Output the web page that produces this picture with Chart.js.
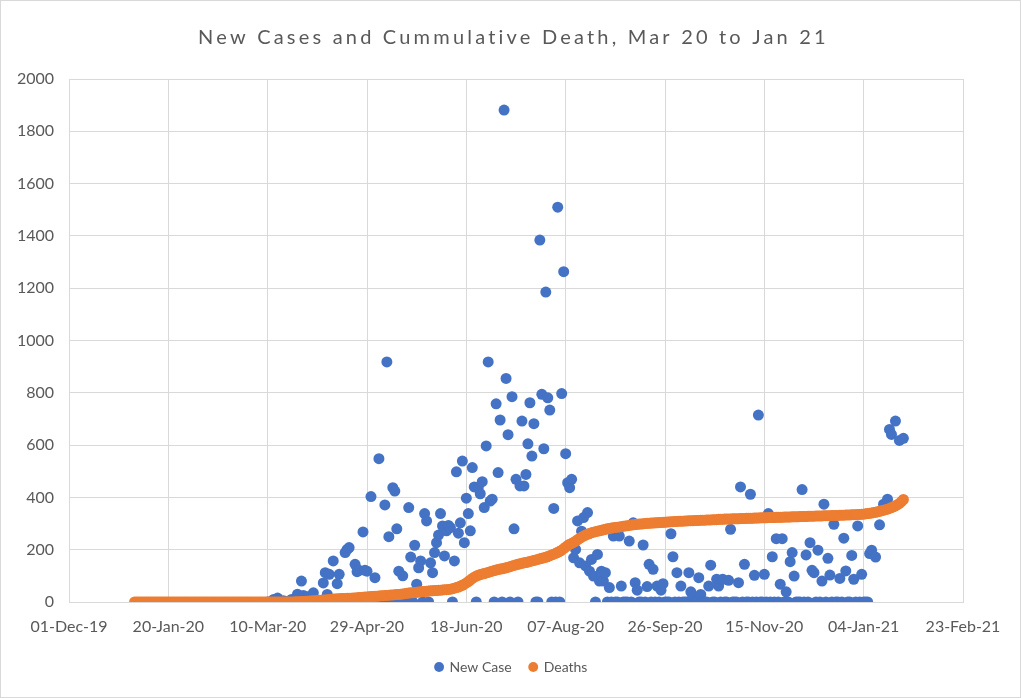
<!DOCTYPE html>
<html>
<head>
<meta charset="utf-8">
<script src="https://cdn.jsdelivr.net/npm/chart.js@4"></script>
<style>
  body { margin: 0; background: #fff; }
  #frame { position: relative; width: 1021px; height: 698px; border: 1px solid #d9d9d9; box-sizing: border-box; }
  #chart { position: absolute; left: 0; top: 0; }
</style>
</head>
<body>
<div id="frame"><canvas id="chart" width="1021" height="698"></canvas></div>
<script>
const chartTitle = "New Cases and Cummulative Death, Mar 20 to Jan 21";

// x values are days counted from 01-Dec-19
const xTickLabels = ["01-Dec-19", "20-Jan-20", "10-Mar-20", "29-Apr-20", "18-Jun-20",
  "07-Aug-20", "26-Sep-20", "15-Nov-20", "04-Jan-21", "23-Feb-21"];

// new cases, one value per day from day 100 (09-Mar-20); null = no point
const caseStartDay = 100;
const newCases = [
  0, 0, 0, 10, 0, 15, 0, 0, 5, 0,
  0, 0, 10, 0, 0, 30, 0, 80, 25, 0,
  20, 0, 0, 35, 0, 0, 0, 0, 73, 112,
  29, 106, 0, 157, 0, 70, 106, 0, 0, 189,
  201, 208, 0, 0, 144, 116, 121, 0, 268, 121,
  118, 0, 403, 0, 93, 0, 548, 0, 0, 371,
  918, 250, 0, 437, 424, 280, 118, 0, 100, 0,
  0, 361, 172, 0, 217, 68, 131, 157, 0, 338,
  310, 0, 150, 112, 189, 227, 256, 338, 291, 176,
  272, 293, 284, 0, 157, 498, 263, 303, 539, 227,
  397, 338, 272, 514, 440, 0, 437, 414, 460, 361,
  597, 918, 386, 393, 0, 758, 495, 696, 0, 1881,
  855, 640, 0, 785, 280, 469, 0, 444, 692, 444,
  488, 605, 762, 558, 682, 0, 0, 1384, 794, 586,
  1185, 781, 734, 0, 358, 0, 1510, 0, 797, 1263,
  567, 456, 437, 469, 169, 201, 310, 150, 271, 323,
  138, 342, 118, 163, 99, 0, 182, 80, 118, 80,
  112, 0, 55, 0, 252, 0, 0, 252, 61, 0,
  0, 0, 233, 0, 303, 74, 45, 0, 0, 218,
  0, 59, 144, 0, 125, 0, 61, 0, 45, 70,
  0, 0, 0, 261, 173, 0, 112, 0, 61, 0,
  0, 0, 112, 39, 20, 0, 0, 93, 29, 0,
  0, 0, 61, 141, 0, 0, 87, 61, 0, 87,
  0, 0, 83, 278, 0, 0, 0, 74, 440, 0,
  144, 0, 0, 412, 0, 102, 0, 715, 0, 0,
  106, 0, 338, 0, 173, 0, 242, 0, 68, 242,
  0, 39, 0, 154, 189, 99, 0, 0, 0, 430,
  0, 180, 0, 227, 121, 112, 0, 198, 0, 80,
  374, 0, 167, 103, 0, 297, 0, 0, 90, 0,
  244, 119, 0, 0, 178, 87, 0, 291, 0, 106,
  0, 0, 0, 185, 198, null, 172, null, 295, null,
  374, null, 393, 660, 641, null, 692, null, 618, null,
  626
];

// cumulative deaths, one value per day from day 33 (03-Jan-20)
const deathStartDay = 33;
const deaths = [
  0, 0, 0, 0, 0, 0, 0, 0, 0, 0, 0, 0, 0, 0, 0, 0, 0, 0, 0, 0,
  0, 0, 0, 0, 0, 0, 0, 0, 0, 0, 0, 0, 0, 0, 0, 0, 0, 0, 0, 0,
  0, 0, 0, 0, 0, 0, 0, 0, 0, 0, 0, 0, 0, 0, 0, 0, 0, 0, 0, 0,
  0, 0, 0, 0, 0, 0, 0, 0, 0, 0, 0, 0, 0, 0, 0, 0, 0, 0, 0, 0,
  0, 1, 1, 1, 2, 2, 3, 3, 4, 4,
  5, 5, 6, 7, 7, 8, 8, 9, 10, 10,
  11, 11, 12, 12, 13, 13, 13, 14, 14, 14,
  15, 15, 16, 17, 17, 18, 19, 19, 20, 21,
  21, 22, 22, 23, 24, 24, 25, 25, 26, 27,
  27, 28, 29, 29, 30, 31, 32, 33, 34, 35,
  35, 36, 37, 38, 39, 40, 40, 41, 42, 43,
  43, 44, 44, 45, 45, 46, 47, 47, 48, 49,
  51, 53, 55, 57, 61, 64, 68, 73, 78, 84,
  90, 95, 99, 102, 105, 107, 109, 111, 113, 116,
  118, 120, 122, 124, 126, 127, 129, 131, 133, 135,
  138, 140, 142, 144, 146, 148, 150, 151, 153, 155,
  157, 159, 161, 163, 165, 167, 169, 171, 174, 177,
  180, 183, 186, 190, 194, 198, 204, 210, 216, 221,
  224, 228, 233, 238, 243, 248, 252, 256, 259, 262,
  265, 267, 269, 271, 272, 274, 276, 278, 280, 281,
  283, 284, 285, 286, 287, 288, 290, 291, 292, 293,
  294, 295, 296, 297, 298, 298, 299, 300, 301, 301,
  302, 302, 303, 303, 304, 304, 305, 305, 306, 306,
  307, 307, 308, 308, 309, 309, 309, 310, 310, 311,
  311, 311, 312, 312, 312, 313, 313, 313, 314, 314,
  314, 315, 315, 315, 316, 316, 316, 317, 317, 317,
  317, 318, 318, 318, 318, 319, 319, 319, 320, 320,
  320, 320, 321, 321, 321, 322, 322, 322, 322, 323,
  323, 323, 323, 324, 324, 324, 324, 325, 325, 325,
  325, 326, 326, 326, 326, 327, 327, 327, 327, 328,
  328, 328, 328, 329, 329, 329, 329, 330, 330, 330,
  330, 331, 331, 331, 331, 332, 332, 332, 333, 333,
  333, 334, 334, 334, 335, 335, 336, 336, 337, 338,
  339, 340, 342, 343, 345, 347, 349, 351, 353, 355,
  358, 361, 364, 368, 372, 377, 384, 392
];

const casePoints = [];
newCases.forEach((v, i) => {
  if (v !== null) casePoints.push({ x: caseStartDay + i, y: v });
});
const deathPoints = deaths.map((v, i) => ({ x: deathStartDay + i, y: v }));

const font = "Lato, 'Open Sans', sans-serif";
const textColor = "#595959";
const gridColor = "#d9d9d9";

// the title in the picture is drawn wide, so it gets some letter spacing
const spacedTitle = {
  id: "spacedTitle",
  afterDraw(chart) {
    const ctx = chart.ctx;
    ctx.save();
    ctx.font = "20px " + font;
    ctx.fillStyle = textColor;
    ctx.textAlign = "center";
    ctx.textBaseline = "alphabetic";
    ctx.letterSpacing = "3.2px";
    ctx.fillText(chartTitle, chart.width / 2 + 2, 43);
    ctx.restore();
  },
};

const config = {
  type: "scatter",
  data: {
    datasets: [
      {
        label: "New Case",
        data: casePoints,
        backgroundColor: "#4472C4",
        borderColor: "#4472C4",
        pointRadius: 5.5,
        pointBorderWidth: 0,
        order: 1,
      },
      {
        label: "Deaths",
        data: deathPoints,
        backgroundColor: "#ED7D31",
        borderColor: "#ED7D31",
        pointRadius: 5.5,
        pointBorderWidth: 0,
        order: 0,
      },
    ],
  },
  options: {
    responsive: false,
    animation: false,
    devicePixelRatio: 1,
    events: [],
    layout: { padding: { left: 0, right: 0, top: 78, bottom: 15 } },
    plugins: {
      title: { display: false },
      legend: {
        position: "bottom",
        labels: {
          color: textColor,
          font: { family: font, size: 14 },
          usePointStyle: true,
          pointStyle: "circle",
          boxWidth: 7,
          boxHeight: 7,
          padding: 18,
          sort: (a, b) => a.datasetIndex - b.datasetIndex,
        },
      },
      tooltip: { enabled: false },
    },
    scales: {
      x: {
        type: "linear",
        min: 0,
        max: 450,
        ticks: {
          stepSize: 50,
          color: textColor,
          font: { family: font, size: 16 },
          padding: 15,
          maxRotation: 0,
          callback: (v) => xTickLabels[v / 50],
        },
        grid: { color: gridColor, drawTicks: false },
        border: { color: gridColor },
        afterFit: (scale) => {
          scale.height = 40;
          scale.paddingRight = 59;
        },
      },
      y: {
        min: 0,
        max: 2000,
        ticks: {
          stepSize: 200,
          color: textColor,
          font: { family: font, size: 16 },
          padding: 15,
          callback: (v) => String(v),
        },
        grid: { color: gridColor, drawTicks: false },
        border: { display: false },
        afterFit: (scale) => { scale.width = 68; },
      },
    },
  },
  plugins: [spacedTitle],
};

const caseChart = new Chart(document.getElementById("chart"), config);
</script>
</body>
</html>
